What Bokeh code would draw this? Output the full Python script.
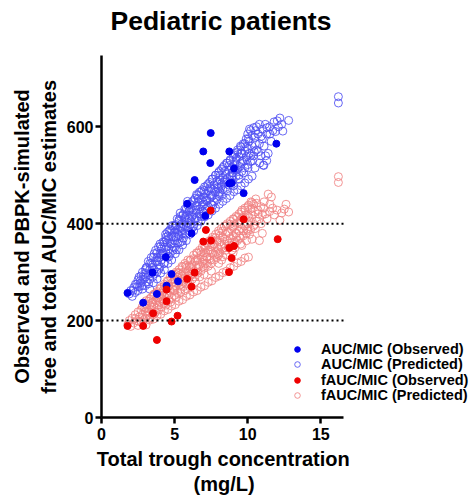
from bokeh.plotting import figure
from bokeh.models import ColumnDataSource, Legend, LegendItem, FixedTicker, Range1d, Title
from bokeh.embed import file_html
from bokeh.resources import INLINE

# ---------------- data ----------------
x_ticks = [0, 5, 10, 15]
y_ticks = [0, 200, 400, 600]
ref_lines = [200, 400]
x_axis_max = 16.55
y_axis_max = 747

auc_obs_x = [7.47, 6.96, 8.74, 7.44, 9.06, 6.37, 8.74, 8.9, 9.72, 5.86, 7.1, 6.16,
             4.4, 3.49, 4.79, 5.23, 4.45, 1.78, 3.79, 2.85, 11.96]
auc_obs_y = [587, 549, 549, 525, 514, 490, 483, 484, 463, 441, 416, 380,
             331, 299, 296, 281, 272, 257, 255, 237, 565]

fauc_obs_x = [7.47, 9.72, 7.14, 6.96, 7.49, 12.05, 8.74, 9.06, 8.9, 6.37, 8.72,
              5.86, 6.16, 4.45, 4.45, 3.53, 5.2, 4.79, 1.78, 2.85, 3.79]
fauc_obs_y = [427, 409, 387, 363, 365, 368, 350, 354, 329, 299, 300,
              286, 270, 264, 240, 215, 210, 198, 189, 189, 160]

auc_pred = [
    (1.9, 255), (2.0, 262), (2.1, 250), (2.2, 268), (2.3, 258), (2.4, 275), (2.5, 262), (2.5, 284),
    (2.6, 270), (2.7, 292), (2.7, 278), (2.8, 265), (2.8, 300), (2.9, 285), (3.0, 272), (3.0, 305), (3.0, 290),
    (3.1, 280), (3.1, 310), (3.2, 295), (3.2, 322), (3.3, 285), (3.3, 305), (3.4, 330), (3.4, 298),
    (3.5, 315), (3.5, 290), (3.6, 338), (3.6, 305), (3.7, 322), (3.7, 345), (3.8, 300), (3.8, 330),
    (3.9, 315), (3.9, 352), (4.0, 338), (4.0, 310), (4.0, 358),
    (4.1, 325), (4.1, 348), (4.2, 362), (4.2, 335), (4.3, 318), (4.3, 352), (4.4, 372), (4.4, 340),
    (4.5, 360), (4.5, 330), (4.5, 382), (4.6, 348), (4.6, 368), (4.7, 338), (4.7, 388), (4.8, 358),
    (4.8, 375), (4.9, 345), (4.9, 395), (5.0, 365), (5.0, 382), (5.0, 350),
    (5.1, 372), (5.1, 398), (5.2, 360), (5.2, 388), (5.3, 405), (5.3, 375), (5.4, 392), (5.4, 362),
    (5.4, 415), (5.5, 380), (5.5, 400), (5.6, 420), (5.6, 388), (5.6, 370), (5.7, 408), (5.7, 430),
    (5.8, 395), (5.8, 378), (5.8, 418), (5.9, 438), (5.9, 402), (6.0, 385), (6.0, 425), (6.0, 410),
    (6.1, 398), (6.1, 432), (6.2, 445), (6.2, 415), (6.3, 395), (6.3, 428), (6.4, 452), (6.4, 410),
    (6.5, 438), (6.5, 422), (6.5, 460), (6.6, 405), (6.6, 445), (6.7, 430), (6.7, 465), (6.8, 415),
    (6.8, 450), (6.9, 438), (6.9, 470), (7.0, 422), (7.0, 455), (7.0, 440),
    (7.1, 462), (7.1, 430), (7.2, 478), (7.2, 448), (7.3, 435), (7.3, 468), (7.4, 485), (7.4, 452),
    (7.5, 440), (7.5, 472), (7.6, 492), (7.6, 458), (7.7, 445), (7.7, 480), (7.8, 500), (7.8, 465),
    (7.9, 450), (7.9, 488), (8.0, 505), (8.0, 472), (8.0, 458),
    (8.1, 490), (8.1, 465), (8.2, 512), (8.2, 478), (8.3, 495), (8.3, 470), (8.4, 520), (8.4, 485),
    (8.5, 502), (8.5, 475), (8.6, 525), (8.6, 492), (8.7, 510), (8.7, 480), (8.8, 530), (8.8, 498),
    (8.9, 515), (8.9, 485), (9.0, 538), (9.0, 505), (9.0, 490),
    (9.1, 522), (9.1, 545), (9.2, 498), (9.2, 530), (9.3, 552), (9.3, 512), (9.4, 538), (9.4, 500),
    (9.5, 560), (9.5, 525), (9.6, 545), (9.6, 508), (9.7, 565), (9.7, 530), (9.8, 550), (9.8, 515),
    (9.9, 575), (9.9, 538), (10.0, 555), (10.0, 522), (10.0, 585),
    (10.1, 545), (10.1, 570), (10.2, 592), (10.2, 528), (10.3, 560), (10.4, 598), (10.4, 540),
    (10.5, 578), (10.5, 515), (10.6, 600), (10.6, 552), (10.7, 585), (10.8, 565), (10.8, 605),
    (10.9, 540), (11.0, 595), (11.0, 575), (11.1, 520), (11.2, 605), (11.3, 530), (11.3, 585),
    (11.5, 600), (11.6, 570), (11.8, 610), (11.9, 590), (12.1, 600), (12.2, 618), (12.4, 591),
    (12.8, 613), (11.4, 545), (11.07, 521),
    (3.05, 309), (3.3, 318), (3.55, 331), (3.8, 340), (4.05, 353), (4.3, 362), (4.55, 375), (4.8, 386),
    (5.05, 396), (5.3, 408), (5.55, 417), (5.8, 430), (6.05, 440), (6.3, 448), (6.55, 458), (6.8, 466),
    (7.05, 476), (7.3, 482), (7.55, 492), (7.8, 500), (8.05, 508), (8.3, 516), (8.55, 525), (8.8, 532),
    (9.05, 542), (9.3, 548), (9.55, 558), (9.8, 565), (10.05, 575), (10.3, 582), (10.55, 592),
    (3.3, 265), (3.55, 278), (3.8, 286), (4.05, 298), (4.3, 305), (4.55, 318), (4.8, 325), (5.05, 338),
    (5.3, 346), (5.55, 356), (5.8, 365), (6.05, 378), (6.3, 385), (6.55, 396), (6.8, 405), (7.05, 414),
    (7.3, 418), (7.55, 426), (7.8, 432), (8.05, 440), (8.3, 446), (8.55, 452), (8.8, 458), (9.05, 466),
    (9.3, 470), (9.55, 478), (9.8, 484), (10.05, 492), (10.3, 498),
    (2.15, 262), (2.45, 270), (2.65, 282), (2.85, 290), (3.45, 310), (3.95, 330), (4.45, 352),
    (4.95, 372), (5.45, 392), (5.95, 412), (6.45, 428), (6.95, 445), (7.45, 460), (7.95, 475),
    (8.45, 490), (8.95, 505), (9.45, 518), (9.95, 532), (10.45, 548), (4.2, 340), (5.2, 380),
    (6.2, 418), (7.2, 452), (8.2, 482), (9.2, 510), (10.2, 540),
    (2.32, 275), (2.57, 290), (2.78, 272), (3.02, 298), (3.22, 276), (3.42, 318), (3.62, 296),
    (3.82, 322), (3.92, 306), (4.12, 336), (4.27, 318), (4.42, 366), (4.62, 332), (4.72, 358),
    (4.92, 352), (5.02, 390), (5.12, 346), (5.22, 372), (5.42, 384), (5.52, 364), (5.62, 398),
    (5.72, 380), (5.92, 392), (6.02, 428), (6.12, 406), (6.22, 392), (6.42, 436), (6.52, 412),
    (6.62, 452), (6.72, 420), (6.92, 426), (7.02, 468), (7.12, 448), (7.22, 432), (7.42, 474),
    (7.52, 456), (7.62, 438), (7.72, 468), (7.92, 482), (8.02, 462), (8.12, 500), (8.22, 458),
    (8.42, 508), (8.52, 486), (8.62, 468), (8.72, 520), (8.92, 498), (9.02, 478), (9.12, 512),
    (9.22, 535), (9.42, 492), (9.52, 545), (9.62, 528), (9.72, 505), (9.92, 558), (10.02, 515),
    (10.12, 595), (10.32, 530), (10.52, 565), (10.72, 548), (10.92, 580), (11.12, 560),
    (11.32, 598), (11.52, 585), (11.72, 592), (12.02, 612), (12.32, 605), (11.22, 540), (10.82, 525),
    (4.62, 385), (4.82, 396), (5.18, 410), (5.38, 422), (5.68, 412), (4.38, 378), (5.88, 446),
    (16.2, 662), (16.2, 649),
]

fauc_pred = [
    (1.8, 192), (1.9, 200), (2.0, 188), (2.1, 205), (2.2, 195), (2.3, 212), (2.4, 200), (2.5, 190),
    (2.5, 218), (2.6, 208), (2.7, 222), (2.7, 198), (2.8, 212), (2.9, 228), (2.9, 202), (3.0, 218),
    (3.0, 235), (3.0, 205),
    (3.1, 225), (3.1, 210), (3.2, 240), (3.2, 218), (3.3, 232), (3.3, 205), (3.4, 248), (3.4, 222),
    (3.5, 238), (3.5, 212), (3.6, 255), (3.6, 228), (3.7, 242), (3.7, 218), (3.8, 260), (3.8, 232),
    (3.9, 248), (3.9, 222), (4.0, 265), (4.0, 238), (4.0, 250),
    (4.1, 245), (4.1, 228), (4.2, 262), (4.2, 240), (4.3, 275), (4.3, 250), (4.4, 232), (4.4, 265),
    (4.5, 282), (4.5, 255), (4.6, 242), (4.6, 272), (4.7, 290), (4.7, 260), (4.8, 248), (4.8, 278),
    (4.9, 295), (4.9, 265), (5.0, 252), (5.0, 285), (5.0, 270),
    (5.1, 300), (5.1, 272), (5.2, 258), (5.2, 290), (5.3, 305), (5.3, 278), (5.4, 265), (5.4, 295),
    (5.5, 312), (5.5, 282), (5.6, 270), (5.6, 300), (5.7, 318), (5.7, 288), (5.8, 275), (5.8, 308),
    (5.9, 325), (5.9, 292), (6.0, 280), (6.0, 312), (6.0, 298),
    (6.1, 325), (6.1, 295), (6.2, 285), (6.2, 315), (6.3, 335), (6.3, 302), (6.4, 290), (6.4, 322),
    (6.5, 340), (6.5, 308), (6.6, 298), (6.6, 328), (6.7, 345), (6.7, 315), (6.8, 302), (6.8, 335),
    (6.9, 352), (6.9, 320), (7.0, 308), (7.0, 340), (7.0, 325),
    (7.1, 350), (7.1, 318), (7.2, 332), (7.2, 360), (7.3, 312), (7.3, 345), (7.4, 365), (7.4, 328),
    (7.5, 352), (7.5, 318), (7.6, 372), (7.6, 338), (7.7, 325), (7.7, 358), (7.8, 378), (7.8, 342),
    (7.9, 330), (7.9, 365), (8.0, 385), (8.0, 348), (8.0, 335),
    (8.1, 362), (8.1, 340), (8.2, 390), (8.2, 352), (8.3, 372), (8.3, 332), (8.4, 395), (8.4, 358),
    (8.5, 378), (8.5, 345), (8.6, 400), (8.6, 365), (8.7, 382), (8.7, 350), (8.8, 405), (8.8, 370),
    (8.9, 388), (8.9, 355), (9.0, 410), (9.0, 375), (9.0, 392),
    (9.1, 362), (9.1, 398), (9.2, 415), (9.2, 380), (9.3, 365), (9.3, 402), (9.4, 420), (9.4, 385),
    (9.5, 370), (9.5, 408), (9.6, 428), (9.6, 390), (9.7, 375), (9.7, 412), (9.8, 432), (9.8, 395),
    (9.9, 380), (9.9, 418), (10.0, 435), (10.0, 400), (10.0, 385),
    (10.1, 412), (10.2, 430), (10.2, 388), (10.3, 418), (10.4, 440), (10.4, 395), (10.5, 425),
    (10.6, 405), (10.6, 442), (10.7, 428), (10.8, 410), (10.9, 435), (11.0, 418), (11.0, 380),
    (11.1, 432), (11.2, 420), (11.4, 461), (11.5, 425), (11.7, 432), (12.0, 428), (12.2, 407),
    (12.5, 430), (12.8, 424), (10.3, 368), (9.6, 355), (10.8, 365), (9.0, 340),
    (3.05, 241), (3.3, 245), (3.55, 253), (3.8, 257), (4.05, 268), (4.3, 271), (4.55, 281), (4.8, 285),
    (5.05, 296), (5.3, 299), (5.55, 310), (5.8, 314), (6.05, 324), (6.3, 328), (6.55, 339), (6.8, 342),
    (7.05, 352), (7.3, 356), (7.55, 367), (7.8, 371), (8.05, 381), (8.3, 385), (8.55, 396), (8.8, 399),
    (9.05, 409), (9.3, 413), (9.55, 424), (9.8, 428), (10.05, 438), (10.3, 443), (10.55, 451),
    (3.05, 191), (3.3, 201), (3.55, 203), (3.8, 210), (4.05, 213), (4.3, 220), (4.55, 223), (4.8, 230),
    (5.05, 233), (5.3, 240), (5.55, 243), (5.8, 250), (6.05, 253), (6.3, 259), (6.55, 262), (6.8, 269),
    (7.05, 272), (7.3, 279), (7.55, 282), (7.8, 289), (8.05, 292), (8.3, 299), (8.55, 302), (8.8, 309),
    (9.05, 312), (9.3, 319), (9.55, 322), (9.8, 329), (10.05, 331),
    (3.45, 228), (3.95, 240), (4.45, 252), (4.95, 262), (5.45, 275), (5.95, 288), (6.45, 300),
    (6.95, 312), (7.45, 325), (7.95, 338), (8.45, 350), (8.95, 362), (9.45, 375), (9.95, 388),
    (10.45, 398), (4.2, 258), (5.2, 282), (6.2, 305), (7.2, 330), (8.2, 356), (9.2, 380), (10.2, 405),
    (2.32, 204), (2.57, 198), (2.78, 228), (3.02, 226), (3.22, 212), (3.42, 236), (3.62, 214),
    (3.82, 246), (3.92, 232), (4.12, 252), (4.27, 236), (4.42, 272), (4.62, 252), (4.72, 238),
    (4.92, 280), (5.02, 262), (5.12, 248), (5.22, 298), (5.42, 258), (5.52, 292), (5.62, 280),
    (5.72, 262), (5.92, 302), (6.02, 270), (6.12, 310), (6.22, 296), (6.42, 280), (6.52, 325),
    (6.62, 310), (6.72, 290), (6.92, 332), (7.02, 295), (7.12, 340), (7.22, 318), (7.42, 345),
    (7.52, 302), (7.62, 355), (7.72, 335), (7.92, 352), (8.02, 318), (8.12, 375), (8.22, 325),
    (8.42, 368), (8.52, 335), (8.62, 382), (8.72, 360), (8.92, 345), (9.02, 395), (9.12, 350),
    (9.22, 372), (9.42, 400), (9.52, 358), (9.62, 412), (9.72, 385), (9.92, 365), (10.02, 415),
    (10.12, 378), (10.32, 432), (10.52, 390), (10.72, 420), (10.92, 400), (11.12, 445),
    (11.32, 410), (11.52, 440), (11.82, 418), (12.32, 422), (10.22, 445), (11.62, 455), (12.62, 440),
    (16.2, 497), (16.2, 485),
]

labels = ["AUC/MIC (Observed)", "AUC/MIC (Predicted)",
          "fAUC/MIC (Observed)", "fAUC/MIC (Predicted)"]
title_text = "Pediatric patients"
x_label_lines = ["Total trough concentration", "(mg/L)"]
y_label = "Observed and PBPK-simulated\nfree and total AUC/MIC estimates"

# ---------------- figure ----------------
FONT = "Liberation Sans"
PX_PER_X = 242 / x_axis_max          # frame is widened so the legend is not clipped
x_frame_max = 374 / PX_PER_X

p = figure(width=475, height=500, output_backend="svg", toolbar_location=None,
           x_range=Range1d(0, x_frame_max), y_range=Range1d(0, y_axis_max),
           min_border_left=101, min_border_right=0,
           min_border_top=55, min_border_bottom=83)
p.outline_line_color = None
p.grid.visible = False
p.background_fill_color = "white"

# spacer (closest to the frame) then the real title above it
p.add_layout(Title(text=" ", text_font_size="10px", standoff=0), "above")
p.add_layout(Title(text=title_text, align="left", offset=9, vertical_align="top", standoff=9,
                   text_font=FONT, text_font_size="26.5px", text_font_style="bold",
                   text_color="black"), "above")

for ax in (p.xaxis, p.yaxis):
    ax.axis_line_width = 2.5
    ax.axis_line_color = "black"
    ax.major_tick_line_width = 2.5
    ax.major_tick_line_color = "black"
    ax.major_tick_out = 6
    ax.major_tick_in = 0
    ax.minor_tick_line_color = None
    ax.major_label_text_font = FONT
    ax.major_label_text_font_size = "16px"
    ax.major_label_text_font_style = "bold"
    ax.major_label_text_color = "black"
    ax.axis_label_text_font = FONT
    ax.axis_label_text_font_size = "20px"
    ax.axis_label_text_font_style = "bold"
    ax.axis_label_text_color = "black"

p.xaxis.bounds = (0, x_axis_max)
p.xaxis.ticker = FixedTicker(ticks=x_ticks)
p.yaxis.ticker = FixedTicker(ticks=y_ticks)
p.xaxis.major_label_standoff = 4
p.yaxis.major_label_standoff = 2
p.yaxis.axis_label = y_label
p.yaxis.axis_label_standoff = 4

# x-axis label as two titles below the axis, centred under the drawn axis
for txt, off, sd, va in [(x_label_lines[0], -4.7, 6, "bottom"), (x_label_lines[1], 92, 0, "top")]:
    t = Title(text=txt, align="left", offset=off, standoff=sd, vertical_align=va,
              text_font=FONT, text_font_size="20px", text_font_style="bold", text_color="black")
    p.add_layout(t, "below")

auc_pred_src = ColumnDataSource(dict(x=[a for a, b in auc_pred], y=[b for a, b in auc_pred]))
fauc_pred_src = ColumnDataSource(dict(x=[a for a, b in fauc_pred], y=[b for a, b in fauc_pred]))

r_auc_pred = p.scatter("x", "y", source=auc_pred_src, size=8, marker="circle",
                       fill_color=None, line_color="#4f4ff2", line_alpha=0.85, line_width=1)
r_fauc_pred = p.scatter("x", "y", source=fauc_pred_src, size=8, marker="circle",
                        fill_color=None, line_color="#f08282", line_alpha=0.85, line_width=1)
r_auc_obs = p.scatter(auc_obs_x, auc_obs_y, size=7, marker="circle",
                      fill_color="#0000ee", line_color="#0000ee")
r_fauc_obs = p.scatter(fauc_obs_x, fauc_obs_y, size=7, marker="circle",
                       fill_color="#ee0000", line_color="#ee0000")

# dotted reference lines spanning the x axis
p.segment(x0=[0] * len(ref_lines), x1=[x_axis_max] * len(ref_lines), y0=ref_lines, y1=ref_lines,
          line_color="black", line_width=2, line_dash="2 3")

# one legend per entry so the row pitch can match the reference
renderers = [r_auc_obs, r_auc_pred, r_fauc_obs, r_fauc_pred]
row_offsets = [60.25, 44.75, 29.25, 13.75]
for lab, r, vy in zip(labels, renderers, row_offsets):
    lg = Legend(items=[LegendItem(label=lab, renderers=[r])], location=(189, vy))
    lg.background_fill_alpha = 0
    lg.border_line_alpha = 0
    lg.padding = 0
    lg.margin = 0
    lg.glyph_width = 14
    lg.glyph_height = 14
    lg.label_height = 14
    lg.label_standoff = 17
    lg.label_text_font = FONT
    lg.label_text_font_size = "14.5px"
    lg.label_text_font_style = "bold"
    lg.label_text_color = "black"
    p.add_layout(lg)

open("out.html", "w").write(file_html(p, INLINE))
